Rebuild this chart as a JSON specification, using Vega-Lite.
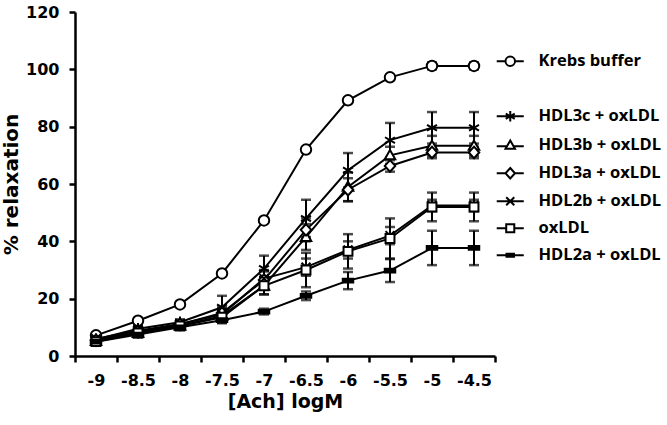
{
  "$schema": "https://vega.github.io/schema/vega-lite/v6.json",
  "width": 420,
  "height": 344,
  "autosize": {"type": "none"},
  "padding": {"left": 75, "top": 12, "right": 172, "bottom": 69},
  "background": "white",
  "config": {
    "view": {"stroke": null},
    "font": "DejaVu Sans",
    "axis": {
      "grid": false,
      "domainColor": "black",
      "domainWidth": 2.5,
      "tickColor": "black",
      "tickWidth": 2.5,
      "tickSize": 6,
      "labelColor": "black",
      "labelFont": "DejaVu Sans",
      "labelFontWeight": "bold",
      "labelFontSize": 16,
      "labelOverlap": false,
      "labelFlush": false,
      "labelBound": false,
      "titleColor": "black",
      "titleFont": "DejaVu Sans",
      "titleFontWeight": "bold"
    }
  },
  "data": {
    "values": [
      {"s": "Krebs buffer", "x": -9, "y": 7.2, "e": 0.8},
      {"s": "Krebs buffer", "x": -8.5, "y": 12.3, "e": 0.8},
      {"s": "Krebs buffer", "x": -8, "y": 18.0, "e": 0.8},
      {"s": "Krebs buffer", "x": -7.5, "y": 28.8, "e": 0.8},
      {"s": "Krebs buffer", "x": -7, "y": 47.3, "e": 0.8},
      {"s": "Krebs buffer", "x": -6.5, "y": 72.0, "e": 0.8},
      {"s": "Krebs buffer", "x": -6, "y": 89.2, "e": 0.8},
      {"s": "Krebs buffer", "x": -5.5, "y": 97.2, "e": 0.8},
      {"s": "Krebs buffer", "x": -5, "y": 101.2, "e": 1.2},
      {"s": "Krebs buffer", "x": -4.5, "y": 101.2, "e": 1.2},

      {"s": "HDL3c + oxLDL", "x": -9, "y": 5.8, "e": 1},
      {"s": "HDL3c + oxLDL", "x": -8.5, "y": 9.5, "e": 1},
      {"s": "HDL3c + oxLDL", "x": -8, "y": 11.8, "e": 1},
      {"s": "HDL3c + oxLDL", "x": -7.5, "y": 17, "e": 4},
      {"s": "HDL3c + oxLDL", "x": -7, "y": 30.5, "e": 4.5},
      {"s": "HDL3c + oxLDL", "x": -6.5, "y": 48, "e": 6.5},
      {"s": "HDL3c + oxLDL", "x": -6, "y": 64.8, "e": 6},
      {"s": "HDL3c + oxLDL", "x": -5.5, "y": 75.3, "e": 6},
      {"s": "HDL3c + oxLDL", "x": -5, "y": 79.6, "e": 5.5},
      {"s": "HDL3c + oxLDL", "x": -4.5, "y": 79.6, "e": 5.5},

      {"s": "HDL3b + oxLDL", "x": -9, "y": 5.2, "e": 1},
      {"s": "HDL3b + oxLDL", "x": -8.5, "y": 8, "e": 1},
      {"s": "HDL3b + oxLDL", "x": -8, "y": 10.5, "e": 1},
      {"s": "HDL3b + oxLDL", "x": -7.5, "y": 14, "e": 2},
      {"s": "HDL3b + oxLDL", "x": -7, "y": 24.5, "e": 3},
      {"s": "HDL3b + oxLDL", "x": -6.5, "y": 41.5, "e": 4.5},
      {"s": "HDL3b + oxLDL", "x": -6, "y": 59, "e": 5},
      {"s": "HDL3b + oxLDL", "x": -5.5, "y": 70, "e": 3},
      {"s": "HDL3b + oxLDL", "x": -5, "y": 73.3, "e": 3.5},
      {"s": "HDL3b + oxLDL", "x": -4.5, "y": 73.3, "e": 3.5},

      {"s": "HDL3a + oxLDL", "x": -9, "y": 5.5, "e": 1},
      {"s": "HDL3a + oxLDL", "x": -8.5, "y": 8.5, "e": 1},
      {"s": "HDL3a + oxLDL", "x": -8, "y": 11, "e": 1},
      {"s": "HDL3a + oxLDL", "x": -7.5, "y": 15, "e": 2},
      {"s": "HDL3a + oxLDL", "x": -7, "y": 26.5, "e": 3},
      {"s": "HDL3a + oxLDL", "x": -6.5, "y": 44, "e": 4},
      {"s": "HDL3a + oxLDL", "x": -6, "y": 58, "e": 4},
      {"s": "HDL3a + oxLDL", "x": -5.5, "y": 66.3, "e": 2},
      {"s": "HDL3a + oxLDL", "x": -5, "y": 71, "e": 2},
      {"s": "HDL3a + oxLDL", "x": -4.5, "y": 71, "e": 2},

      {"s": "HDL2b + oxLDL", "x": -9, "y": 6, "e": 1},
      {"s": "HDL2b + oxLDL", "x": -8.5, "y": 8.8, "e": 1},
      {"s": "HDL2b + oxLDL", "x": -8, "y": 11.2, "e": 1},
      {"s": "HDL2b + oxLDL", "x": -7.5, "y": 14.5, "e": 2},
      {"s": "HDL2b + oxLDL", "x": -7, "y": 27, "e": 3},
      {"s": "HDL2b + oxLDL", "x": -6.5, "y": 31, "e": 3},
      {"s": "HDL2b + oxLDL", "x": -6, "y": 37, "e": 3},
      {"s": "HDL2b + oxLDL", "x": -5.5, "y": 42, "e": 3},
      {"s": "HDL2b + oxLDL", "x": -5, "y": 52.5, "e": 2},
      {"s": "HDL2b + oxLDL", "x": -4.5, "y": 52.5, "e": 2},

      {"s": "oxLDL", "x": -9, "y": 5, "e": 1},
      {"s": "oxLDL", "x": -8.5, "y": 8, "e": 1},
      {"s": "oxLDL", "x": -8, "y": 10.5, "e": 1},
      {"s": "oxLDL", "x": -7.5, "y": 13.5, "e": 2},
      {"s": "oxLDL", "x": -7, "y": 24.5, "e": 3},
      {"s": "oxLDL", "x": -6.5, "y": 30, "e": 6},
      {"s": "oxLDL", "x": -6, "y": 36.5, "e": 6},
      {"s": "oxLDL", "x": -5.5, "y": 41, "e": 7},
      {"s": "oxLDL", "x": -5, "y": 52, "e": 5},
      {"s": "oxLDL", "x": -4.5, "y": 52, "e": 5},

      {"s": "HDL2a + oxLDL", "x": -9, "y": 5, "e": 1},
      {"s": "HDL2a + oxLDL", "x": -8.5, "y": 7.5, "e": 1},
      {"s": "HDL2a + oxLDL", "x": -8, "y": 10, "e": 1},
      {"s": "HDL2a + oxLDL", "x": -7.5, "y": 12.5, "e": 1},
      {"s": "HDL2a + oxLDL", "x": -7, "y": 15.5, "e": 1},
      {"s": "HDL2a + oxLDL", "x": -6.5, "y": 21, "e": 1.5},
      {"s": "HDL2a + oxLDL", "x": -6, "y": 26.3, "e": 3},
      {"s": "HDL2a + oxLDL", "x": -5.5, "y": 29.8, "e": 4},
      {"s": "HDL2a + oxLDL", "x": -5, "y": 37.7, "e": 6},
      {"s": "HDL2a + oxLDL", "x": -4.5, "y": 37.7, "e": 6}
    ]
  },
  "encoding": {
    "x": {
      "field": "x",
      "type": "quantitative",
      "scale": {"domain": [-9.25, -4.25], "nice": false, "zero": false},
      "axis": {
        "title": "[Ach] logM",
        "titleFontSize": 19,
        "titlePadding": 4,
        "labelPadding": 10,
        "values": [-9.25, -9, -8.75, -8.5, -8.25, -8, -7.75, -7.5, -7.25, -7, -6.75, -6.5, -6.25, -6, -5.75, -5.5, -5.25, -5, -4.75, -4.5, -4.25],
        "labelExpr": "(datum.value * 2) % 1 != 0 ? '' : toString(datum.value)",
        "tickOpacity": {"condition": {"test": "(datum.value * 2) % 1 != 0", "value": 1}, "value": 0}
      }
    },
    "y": {
      "field": "y",
      "type": "quantitative",
      "scale": {"domain": [0, 120], "nice": false},
      "axis": {
        "title": "% relaxation",
        "titleFontSize": 20,
        "titlePadding": 4,
        "labelPadding": 10,
        "values": [0, 20, 40, 60, 80, 100, 120]
      }
    }
  },
  "layer": [
    {
      "mark": {"type": "line", "color": "black", "strokeWidth": 2},
      "encoding": {"detail": {"field": "s", "type": "nominal"}}
    },
    {
      "mark": {"type": "errorbar", "color": "black", "thickness": 2, "ticks": {"size": 10, "thickness": 2.5, "color": "black"}},
      "encoding": {
        "yError": {"field": "e"},
        "detail": {"field": "s", "type": "nominal"}
      }
    },
    {
      "mark": {"type": "point", "stroke": "black", "strokeWidth": 2, "size": 110, "opacity": 1},
      "encoding": {
        "fill": {"condition": {"test": "datum.s === 'HDL2a + oxLDL'", "value": "black"}, "value": "white"},
        "shape": {
          "field": "s",
          "type": "nominal",
          "scale": {
            "domain": ["Krebs buffer", " ", "HDL3c + oxLDL", "HDL3b + oxLDL", "HDL3a + oxLDL", "HDL2b + oxLDL", "oxLDL", "HDL2a + oxLDL"],
            "range": [
              "M-1,0A1,1 0 1,0 1,0A1,1 0 1,0 -1,0Z",
              "M0,0",
              "M0,-1.1V1.1M-0.95,-0.55L0.95,0.55M-0.95,0.55L0.95,-0.55",
              "M0,-1L1,0.75H-1Z",
              "M0,-1.1L1,0L0,1.1L-1,0Z",
              "M-0.85,-0.85L0.85,0.85M-0.85,0.85L0.85,-0.85",
              "M-0.85,-0.85H0.85V0.85H-0.85Z",
              "M-1,-0.35H1V0.35H-1Z"
            ]
          },
          "legend": null
        }
      }
    },
    {
      "mark": {"type": "point", "opacity": 0},
      "encoding": {
        "shape": {
          "field": "s",
          "type": "nominal",
          "scale": {
            "domain": ["Krebs buffer", " ", "HDL3c + oxLDL", "HDL3b + oxLDL", "HDL3a + oxLDL", "HDL2b + oxLDL", "oxLDL", "HDL2a + oxLDL"],
            "range": [
              "M-2.85,0H-1M1,0H2.85M-1,0A1,1 0 1,0 1,0A1,1 0 1,0 -1,0Z",
              "M0,0",
              "M-2.85,0H2.85M0,-1.1V1.1M-0.95,-0.55L0.95,0.55M-0.95,0.55L0.95,-0.55",
              "M-2.85,0.2H-0.75M0.75,0.2H2.85M0,-1L1,0.75H-1Z",
              "M-2.85,0H-1M1,0H2.85M0,-1.1L1,0L0,1.1L-1,0Z",
              "M-2.85,0H2.85M-0.85,-0.85L0.85,0.85M-0.85,0.85L0.85,-0.85",
              "M-2.85,0H-0.85M0.85,0H2.85M-0.85,-0.85H0.85V0.85H-0.85Z",
              "M-2.85,0H2.85M-1,-0.3H1M-1,0.3H1"
            ]
          },
          "legend": {
            "title": null,
            "orient": "none",
            "legendX": 427,
            "legendY": 41,
            "symbolSize": 90,
            "symbolFillColor": "white",
            "symbolStrokeColor": "black",
            "symbolStrokeWidth": 2,
            "symbolOpacity": 1,
            "labelFont": "Open Sans",
            "labelFontWeight": "bold",
            "labelFontSize": 16.5,
            "labelColor": "black",
            "labelOffset": 20,
            "labelLimit": 0,
            "rowPadding": 10,
            "padding": 0
          }
        }
      }
    }
  ],
  "resolve": {"scale": {"shape": "independent"}}
}
